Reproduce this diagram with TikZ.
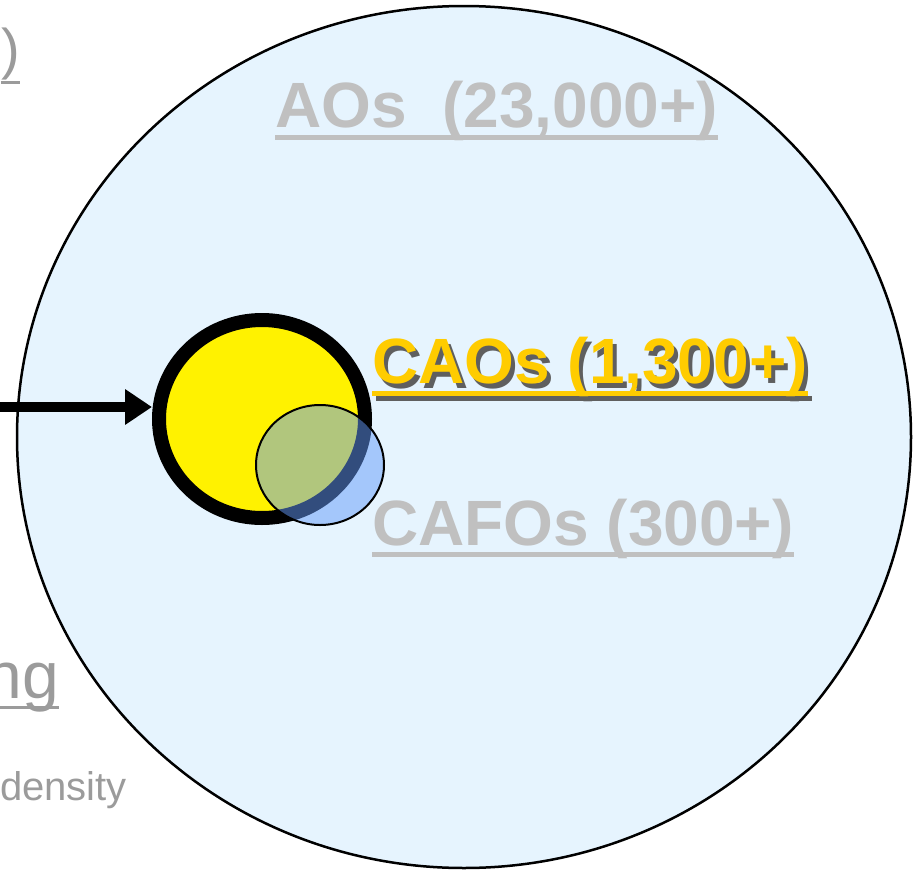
\documentclass[tikz,border=0pt]{standalone}
\usepackage{fontspec}
\setmainfont{Liberation Sans}
\usetikzlibrary{calc,positioning,arrows.meta,shapes.geometric}

\definecolor{skyfill}{RGB}{230,244,254}
\definecolor{headgray}{RGB}{192,192,192}
\definecolor{sidegray}{RGB}{155,155,155}
\definecolor{caogold}{RGB}{255,204,0}
\definecolor{cafoblue}{RGB}{100,155,250}
\definecolor{shadowgray}{RGB}{95,95,95}

\begin{document}
\begin{tikzpicture}[x=1pt, y=-1pt]

        % Styles for the labels and the nested sets
        \tikzset{
            headline/.style={anchor=base west, inner sep=0pt, font=\bfseries\fontsize{64}{64}\selectfont},
            sideline/.style={inner sep=0pt, text=sidegray},
            uline/.style={line width=5pt},
            caoset/.style={ellipse, draw=black, fill=yellow, line width=14pt, inner sep=0pt,
                minimum width=206pt, minimum height=198pt},
            cafoset/.style={ellipse, draw=black, fill=cafoblue, fill opacity=0.5, line width=2pt,
                inner sep=0pt, minimum width=128pt, minimum height=120pt}
        }

        \useasboundingbox (0, 0) rectangle (918, 870);

        % Centres of the three sets and the text baselines
        \coordinate (AO) at (464, 437);
        \coordinate (CAO) at (262, 419);
        \coordinate (CAFO) at (320, 465);

        \coordinate (T1) at (275, 127);
        \coordinate (T2) at (372, 383);
        \coordinate (T3) at (372, 545);
        \coordinate (Src) at (-10, 407);

        % Outer set: all AOs
        \draw[line width=2.5pt, fill=skyfill] (AO) ellipse [x radius=447pt, y radius=431pt];

        % Text cut off at the left edge
        \node[sideline, anchor=base east, font=\fontsize{56}{56}\selectfont] (par) at (20, 68) {)};
        \node[sideline, anchor=base east, font=\fontsize{66}{66}\selectfont] (lic) at (59, 698) {ng};
        \node[sideline, anchor=base west, font=\fontsize{40}{40}\selectfont] (dens) at (0, 800) {density};

        \begin{scope}[sidegray, line width=3pt]
            \draw ([yshift=-14pt]par.base west) -- ([yshift=-14pt]par.base east);
            \draw ([yshift=-9pt]lic.base west) -- ([yshift=-9pt]lic.base east);
        \end{scope}

        % AOs label
        \node[headline, text=headgray] (aos) at (T1) {AOs\ \ (23,000+)};
        \draw[uline, headgray] ([yshift=-10.5pt]aos.base west) -- ([yshift=-10.5pt]aos.base east);

        % Inner sets
        \node[caoset] (cao) at (CAO) {};
        \node[cafoset] (cafo) at (CAFO) {};

        \draw[line width=10pt, -{Triangle[length=27pt, width=34pt]}] (Src) -- (Src -| cao.west);

        % CAOs label with its shadow
        \node[headline, text=shadowgray] (caosShadow) at ($(T2) + (4, 5)$) {CAOs (1,300+)};
        \draw[uline, shadowgray] ([yshift=-10pt]caosShadow.base west) -- ([yshift=-10pt]caosShadow.base east);

        \node[headline, text=caogold] (caos) at (T2) {CAOs (1,300+)};
        \draw[uline, caogold] ([yshift=-10pt]caos.base west) -- ([yshift=-10pt]caos.base east);

        % CAFOs label
        \node[headline, text=headgray] (cafos) at (T3) {CAFOs (300+)};
        \draw[uline, headgray] ([yshift=-9pt]cafos.base west) -- ([yshift=-9pt]cafos.base east);

\end{tikzpicture}
\end{document}
